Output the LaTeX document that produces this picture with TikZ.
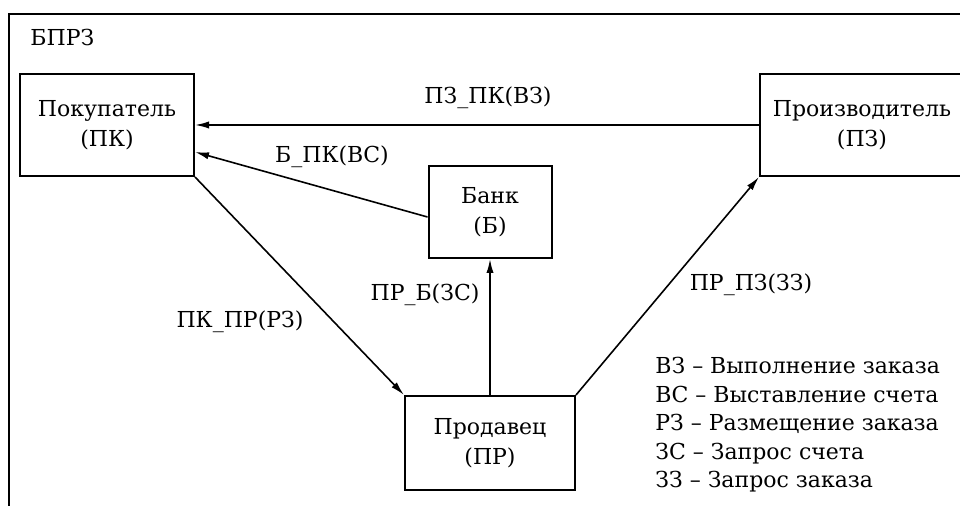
\documentclass[tikz,border=0pt]{standalone}
\usepackage{fontspec}
\setmainfont{DejaVu Serif}[Ligatures=TeX]
\usetikzlibrary{arrows.meta,positioning}

\tikzset{
  unit/.style={draw, line width=1pt, align=center, inner sep=0pt},
  flow/.style={line width=0.8pt, -{Latex[length=7pt,width=3.6pt]}},
  lbl/.style={inner sep=0pt}
}

\begin{document}
\begin{tikzpicture}[x=0.5pt, y=-0.5pt, font=\fontsize{11}{15}\selectfont]

  \useasboundingbox (0,0) rectangle (960,506);
  \clip (0,0) rectangle (960,506);

  % frame of the system
  \draw[line width=1pt] (9,520) |- (980,14);
  \node[lbl, anchor=west] (title) at (30,38) {БПРЗ};

  % participants
  \node[unit, minimum width=87pt, minimum height=51pt] (pk) at (107,125) {Покупатель\\(ПК)};
  \node[unit, minimum width=102pt, minimum height=51pt] (pz) at (862,125) {Производитель\\(ПЗ)};
  \node[unit, minimum width=61.5pt, minimum height=46pt] (bank) at (490,212) {Банк\\(Б)};
  \node[unit, minimum width=85pt, minimum height=47pt] (pr) at (490,443) {Продавец\\(ПР)};

  % messages
  \draw[flow] (pz.west) -- (pk.east);
  \draw[flow] ([yshift=-2.5pt]bank.west) -- ([yshift=-13.5pt]pk.east);
  \draw[flow] (pk.south east) -- (pr.north west);
  \draw[flow] (pr.north) -- (bank.south);
  \draw[flow] (pr.north east) -- (pz.south west);

  \node[lbl] (pzpk) at (488,98) {ПЗ\_ПК(ВЗ)};
  \node[lbl] (bpk) at (332,157) {Б\_ПК(ВС)};
  \node[lbl] (pkpr) at (240,322) {ПК\_ПР(РЗ)};
  \node[lbl] (prb) at (425,295) {ПР\_Б(ЗС)};
  \node[lbl] (prpz) at (751,285) {ПР\_ПЗ(ЗЗ)};

  % legend
  \node[lbl, anchor=north west, align=left, font=\fontsize{11}{14.25}\selectfont] (legend) at (655,357)
    {ВЗ -- Выполнение заказа\\ВС -- Выставление счета\\РЗ -- Размещение заказа\\ЗС -- Запрос счета\\ЗЗ -- Запрос заказа};

\end{tikzpicture}
\end{document}
